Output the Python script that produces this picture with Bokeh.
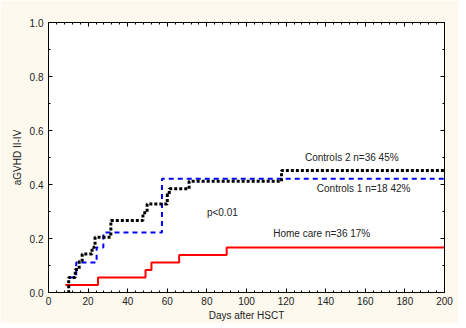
from bokeh.plotting import figure
from bokeh.models import Range1d, LinearAxis, FixedTicker, CustomJSTickFormatter
from bokeh.core.properties import value
from bokeh.embed import file_html
from bokeh.resources import INLINE

# Data (cumulative incidence of aGVHD II-IV)
home_days = [8.5, 25, 49, 52, 66, 90, 200]
home_vals = [0.028, 0.056, 0.083, 0.111, 0.139, 0.167, 0.167]

ctrl1_days = [10.5, 14, 24.3, 27.7, 57.3, 200]
ctrl1_vals = [0.056, 0.111, 0.167, 0.222, 0.421, 0.421]

ctrl2_days = [9.8, 10.2, 13.5, 15.5, 17, 22, 23.5, 31.5, 47.7, 49.8, 60, 61, 71, 117.7, 200]
ctrl2_vals = [0.0, 0.056, 0.085, 0.116, 0.143, 0.168, 0.205, 0.267, 0.295, 0.328, 0.365, 0.384, 0.412, 0.452, 0.452]

labels = ["Controls 2 n=36 45%", "Controls 1 n=18 42%", "p<0.01", "Home care n=36 17%"]
label_x = [129.5, 135.5, 80, 113.5]
label_y = [0.501, 0.385, 0.296, 0.218]

x_ticks = [0, 20, 40, 60, 80, 100, 120, 140, 160, 180, 200]
y_ticks = [0.0, 0.2, 0.4, 0.6, 0.8, 1.0]

FONT = "Liberation Sans"
BG = "#fdf9ee"

p = figure(output_backend="svg", toolbar_location=None,
           frame_width=396, frame_height=270,
           x_range=Range1d(0, 200), y_range=Range1d(0, 1),
           min_border_left=48, min_border_top=22, min_border_right=14, min_border_bottom=20,
           x_axis_label="Days after HSCT", y_axis_label="aGVHD II-IV")
p.border_fill_color = BG
p.background_fill_color = "white"
p.outline_line_color = "black"
p.outline_line_width = 1
p.xgrid.visible = False
p.ygrid.visible = False

def style_axis(ax, show_labels=True):
    ax.axis_line_color = "black"
    ax.major_tick_in = 4
    ax.major_tick_out = 0
    ax.minor_tick_in = 2
    ax.minor_tick_out = 0
    ax.major_tick_line_color = "black"
    ax.minor_tick_line_color = "black"
    ax.major_label_text_font = FONT
    ax.major_label_text_font_size = "10px"
    ax.major_label_text_color = "#222222"
    ax.major_label_standoff = 5 if show_labels else 0
    ax.axis_label_text_font = FONT
    ax.axis_label_text_font_size = "10px"
    ax.axis_label_text_font_style = "normal"
    ax.axis_label_text_color = "#222222"
    if not show_labels:
        ax.formatter = CustomJSTickFormatter(code="return '';")

x_minor = [i * 4 for i in range(51)]
y_minor = [i * 0.1 for i in range(11)]

xax = p.xaxis[0]
xax.ticker = FixedTicker(ticks=x_ticks, minor_ticks=x_minor)
style_axis(xax)
xax.major_label_standoff = 4
xax.axis_label_standoff = 2

yax = p.yaxis[0]
yax.ticker = FixedTicker(ticks=y_ticks, minor_ticks=y_minor)
style_axis(yax)
yax.formatter = CustomJSTickFormatter(code="return tick.toFixed(1);")
yax.axis_label_standoff = 4

top = LinearAxis(ticker=FixedTicker(ticks=x_ticks, minor_ticks=x_minor))
style_axis(top, show_labels=False)
p.add_layout(top, "above")

right = LinearAxis(ticker=FixedTicker(ticks=y_ticks, minor_ticks=y_minor))
style_axis(right, show_labels=False)
p.add_layout(right, "right")

p.step(home_days, home_vals, mode="after", line_color="#ff0000", line_width=2)
p.step(ctrl1_days, ctrl1_vals, mode="after", line_color="#0000ff", line_width=2, line_dash="5 4")
p.step(ctrl2_days, ctrl2_vals, mode="after", line_color="black", line_width=3, line_dash="3 2")

p.text(x=label_x, y=label_y, text=labels, text_font=value(FONT), text_font_size="10px",
       text_align="left", text_baseline="middle", text_color="#222222")

open("out.html", "w").write(file_html(p, INLINE))
